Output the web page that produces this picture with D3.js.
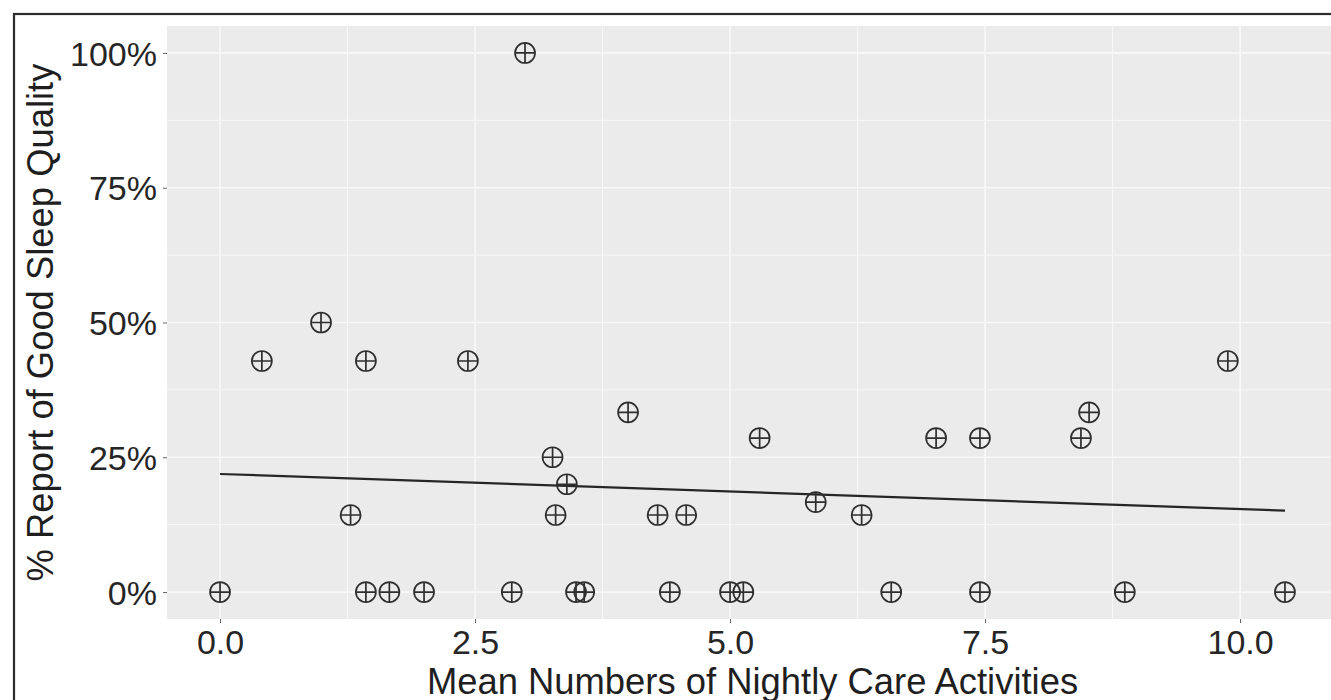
<!DOCTYPE html>
<html>
<head>
<meta charset="utf-8">
<script src="https://cdn.jsdelivr.net/npm/d3@7"></script>
<style>
  html, body { margin: 0; padding: 0; background: #fff; overflow: hidden; }
  svg text { font-family: "Liberation Sans", Arial, sans-serif; }
</style>
</head>
<body>
<svg id="canvas" width="1331" height="700"></svg>
<script>
// mean nightly care activities per person
const careActivities = [
  0.00, 1.43, 1.66, 2.00, 2.86, 3.49, 3.57, 4.41, 5.00, 5.13, 6.58, 7.45, 8.87, 10.44,
  2.99, 0.99,
  0.41, 1.43, 2.43, 9.88,
  4.00, 8.52,
  5.29, 7.02, 7.45, 8.44,
  3.26, 3.40, 5.84,
  1.28, 3.29, 4.29, 4.57, 6.29
];
// share of nights reported as good sleep
const goodSleep = [
  0, 0, 0, 0, 0, 0, 0, 0, 0, 0, 0, 0, 0, 0,
  1.0, 0.5,
  0.4286, 0.4286, 0.4286, 0.4286,
  0.3333, 0.3333,
  0.2857, 0.2857, 0.2857, 0.2857,
  0.25, 0.20, 0.1667,
  0.1429, 0.1429, 0.1429, 0.1429, 0.1429
];
// lm fit line at both ends of the data
const fitX = [0, 10.44];
const fitY = [0.219, 0.151];

const xTicks = [0, 2.5, 5, 7.5, 10];
const xMinor = [1.25, 3.75, 6.25, 8.75];
const yTicks = [0, 0.25, 0.5, 0.75, 1];
const yMinor = [0.125, 0.375, 0.625, 0.875];

const xTitle = "Mean Numbers of Nightly Care Activities";
const yTitle = "% Report of Good Sleep Quality";

const panel = { left: 167, top: 26, right: 1338, bottom: 619 };

const svg = d3.select('#canvas');

const x = d3.scaleLinear()
  .domain([-0.52, 10.96])
  .range([panel.left, panel.right]);

const y = d3.scaleLinear()
  .domain([-0.05, 1.05])
  .range([panel.bottom, panel.top]);

// outer frame (cropped at the right and bottom)
svg.append("rect")
  .attr("x", 14).attr("y", 14)
  .attr("width", 1400).attr("height", 800)
  .attr("fill", "none")
  .attr("stroke", "#2b2b2b")
  .attr("stroke-width", 2.2);

// panel background
svg.append("rect")
  .attr("x", panel.left).attr("y", panel.top)
  .attr("width", panel.right - panel.left)
  .attr("height", panel.bottom - panel.top)
  .attr("fill", "#ebebeb");

const grid = svg.append("g").attr("stroke", "#f8f8f8");

grid.selectAll("line.ymin")
  .data(yMinor)
  .join("line")
  .attr("x1", panel.left).attr("x2", panel.right)
  .attr("y1", d => y(d)).attr("y2", d => y(d))
  .attr("stroke-width", 1);

grid.selectAll("line.xmin")
  .data(xMinor)
  .join("line")
  .attr("y1", panel.top).attr("y2", panel.bottom)
  .attr("x1", d => x(d)).attr("x2", d => x(d))
  .attr("stroke-width", 1);

grid.selectAll("line.ymaj")
  .data(yTicks)
  .join("line")
  .attr("x1", panel.left).attr("x2", panel.right)
  .attr("y1", d => y(d)).attr("y2", d => y(d))
  .attr("stroke-width", 1.7);

grid.selectAll("line.xmaj")
  .data(xTicks)
  .join("line")
  .attr("y1", panel.top).attr("y2", panel.bottom)
  .attr("x1", d => x(d)).attr("x2", d => x(d))
  .attr("stroke-width", 1.7);

// axes
const xAxis = d3.axisBottom(x)
  .tickValues(xTicks)
  .tickFormat(d3.format(".1f"))
  .tickSize(4)
  .tickPadding(7);

const yAxis = d3.axisLeft(y)
  .tickValues(yTicks)
  .tickFormat(d3.format(".0%"))
  .tickSize(4)
  .tickPadding(6);

const gx = svg.append("g")
  .attr("transform", `translate(0,${panel.bottom})`)
  .call(xAxis);
gx.select(".domain").remove();
gx.selectAll(".tick line").attr("stroke", "#666").attr("stroke-width", 1);
gx.selectAll(".tick text")
  .attr("fill", "#262626")
  .attr("font-size", 34)
  .attr("dy", "0.71em");

const gy = svg.append("g")
  .attr("transform", `translate(${panel.left},0)`)
  .call(yAxis);
gy.select(".domain").remove();
gy.selectAll(".tick line").attr("stroke", "#666").attr("stroke-width", 1);
gy.selectAll(".tick text")
  .attr("fill", "#262626")
  .attr("font-size", 34)
  .attr("dy", "0.36em");

// axis titles
svg.append("text")
  .attr("x", (panel.left + panel.right) / 2)
  .attr("y", 694)
  .attr("text-anchor", "middle")
  .attr("font-size", 36.4)
  .attr("fill", "#1f1f1f")
  .text(xTitle);

svg.append("text")
  .attr("transform", `translate(53,${(panel.top + panel.bottom) / 2}) rotate(-90)`)
  .attr("text-anchor", "middle")
  .attr("font-size", 36.4)
  .attr("fill", "#1f1f1f")
  .text(yTitle);

// fit line
svg.append("path")
  .datum(d3.zip(fitX, fitY))
  .attr("fill", "none")
  .attr("stroke", "#262626")
  .attr("stroke-width", 2.2)
  .attr("d", d3.line().x(d => x(d[0])).y(d => y(d[1])));

// points: circle with a plus (ggplot shape 10)
const r = 10;
const pts = svg.append("g")
  .attr("class", "points")
  .attr("fill", "none")
  .attr("stroke", "#2e2e2e")
  .attr("stroke-width", 1.7)
  .selectAll("g")
  .data(d3.zip(careActivities, goodSleep))
  .join("g")
  .attr("transform", d => `translate(${x(d[0])},${y(d[1])})`);

pts.append("circle").attr("r", r);
pts.append("path").attr("d", `M${-r},0H${r}M0,${-r}V${r}`);
</script>
</body>
</html>
